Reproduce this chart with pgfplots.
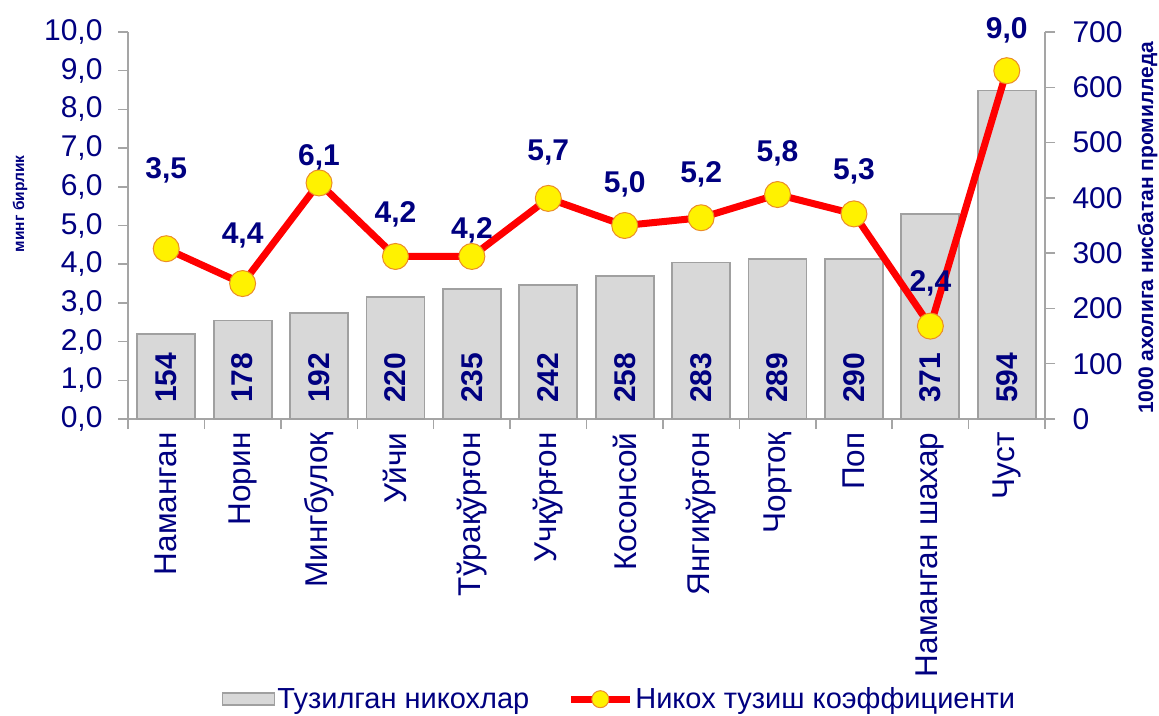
\documentclass[border=0pt]{standalone}
\usepackage{pgfplots}
\pgfplotsset{compat=1.18}
\usepackage{fontspec}
\setmainfont{Liberation Sans}
\definecolor{navy}{RGB}{0,0,128}
\definecolor{axgray}{RGB}{165,165,165}
\definecolor{barface}{RGB}{216,216,216}
\definecolor{baredge}{RGB}{160,160,160}
\definecolor{mkedge}{RGB}{235,140,40}
\pgfplotsset{/pgf/number format/assume math mode=true}
\begin{document}
\begin{tikzpicture}
\path[use as bounding box] (0,0) rectangle (1159pt,715pt);
\pgfplotsset{
 base/.style={
  at={(128pt,296pt)}, anchor=south west,
  scale only axis, width=917pt, height=387pt,
  xmin=-0.5, xmax=11.5,
  axis line style={draw=axgray, line width=1.5pt},
  every tick/.style={draw=axgray, line width=1.5pt},
  tick align=outside, major tick length=10pt,
  clip=false,
 }
}
% ---------- bars on the right axis ----------
\begin{axis}[base,
  axis y line*=right, axis x line*=bottom,
  ymin=0, ymax=700, ytick={0,100,...,700},
  yticklabel style={font=\fontsize{30}{30}\selectfont, text=navy, xshift=14pt},
  xtick={-0.5,0.5,...,11.5}, x tick label as interval,
  xticklabels={Наманган,Норин,Мингбулоқ,Уйчи,Тўрақўрғон,Учқўрғон,Косонсой,Янгиқўрғон,Чортоқ,Поп,Наманган шахар,Чуст},
  xticklabel style={rotate=90, anchor=east, font=\fontsize{31.5}{31.5}\selectfont, text=navy},
  ylabel={1000 ахолига нисбатан промилледа},
  ylabel style={at={(axis description cs:1.112,0.494)}, anchor=center, font=\bfseries\fontsize{21}{21}\selectfont, text=navy},
]
\addplot[ybar, bar width=58pt, fill=barface, draw=baredge, line width=1.8pt]
 coordinates {(0,154) (1,178) (2,192) (3,220) (4,235) (5,242) (6,258) (7,283) (8,289) (9,290) (10,371) (11,594)};
\addplot[draw=none, mark=none, nodes near coords, point meta=explicit,
  nodes near coords style={rotate=90, anchor=west, inner xsep=16pt, font=\bfseries\fontsize{30}{30}\selectfont, text=navy}]
 coordinates {(0,0)[154] (1,0)[178] (2,0)[192] (3,0)[220] (4,0)[235] (5,0)[242] (6,0)[258] (7,0)[283] (8,0)[289] (9,0)[290] (10,0)[371] (11,0)[594]};
\end{axis}
% ---------- line on the left axis ----------
\begin{axis}[base,
  axis y line*=left, axis x line=none,
  ymin=0, ymax=10, ytick={0,1,...,10},
  yticklabel style={/pgf/number format/.cd, fixed, fixed zerofill, precision=1, use comma, /tikz/.cd,
     font=\fontsize{30}{30}\selectfont, text=navy, xshift=-12pt},
  ylabel={минг бирлик},
  ylabel style={at={(axis description cs:-0.1178,0.556)}, anchor=center, font=\bfseries\fontsize{15.5}{15.5}\selectfont, text=navy},
  legend columns=2,
  legend style={at={(axis description cs:0.536,-0.724)}, anchor=center, draw=none, fill=none,
     font=\fontsize{29}{29}\selectfont, text=navy,
     nodes={inner sep=2pt},
     /tikz/every even column/.append style={column sep=36pt}},
]
\addlegendimage{legend image code/.code={\draw[fill=barface, draw=baredge, line width=1.5pt] (0pt,-6pt) rectangle (52pt,6pt);}}
\addlegendentry{Тузилган никохлар}
\addplot[red, line width=7pt, line join=round, mark=*, mark size=13pt,
  mark options={fill=yellow, draw=mkedge, line width=1pt},
  legend image code/.code={\draw[red, line width=7pt] (0pt,0pt) -- (59pt,0pt); \draw[fill=yellow, draw=mkedge, line width=1pt] (29.5pt,0pt) circle (8.5pt);}]
 coordinates {(0,4.4) (1,3.5) (2,6.1) (3,4.2) (4,4.2) (5,5.7) (6,5.0) (7,5.2) (8,5.8) (9,5.3) (10,2.4) (11,9.0)};
\addlegendentry{Никох тузиш коэффициенти}
\addplot[forget plot, draw=none, mark=none, nodes near coords, point meta=explicit,
  nodes near coords={\pgfmathprintnumber[fixed,fixed zerofill,precision=1,use comma]{\pgfplotspointmeta}},
  nodes near coords style={anchor=center, font=\bfseries\fontsize{30}{30}\selectfont, text=navy}]
 coordinates {(0,6.43)[3.5] (1,4.75)[4.4] (2,6.77)[6.1] (3,5.30)[4.2] (4,4.88)[4.2] (5,6.89)[5.7] (6,6.07)[5.0] (7,6.33)[5.2] (8,6.87)[5.8] (9,6.41)[5.3] (10,3.51)[2.4] (11,10.05)[9.0]};
\end{axis}
\end{tikzpicture}
\end{document}
